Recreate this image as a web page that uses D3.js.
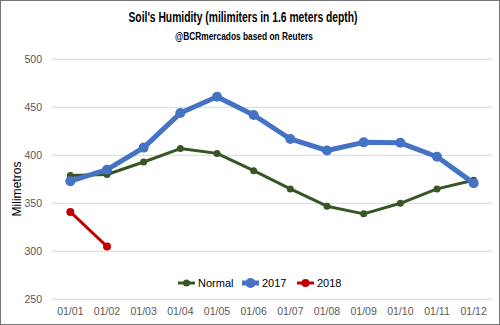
<!DOCTYPE html>
<html><head><meta charset="utf-8">
<script src="https://cdn.jsdelivr.net/npm/d3@7"></script>
<style>body{margin:0;background:#fff}svg{display:block}</style>
</head><body>
<svg id="c" width="500" height="325"></svg>
<script>
const months = ["01/01","01/02","01/03","01/04","01/05","01/06","01/07","01/08","01/09","01/10","01/11","01/12"];
const normal = [379,380,393,407,402,384,365,347,339,350,365,374];
const y2017 = [373,385,408,444,461,442,417,405,413.5,413,398.5,371];
const y2018 = [341,305];
const yTicks = [250,300,350,400,450,500];
const seriesNames = ["Normal","2017","2018"];
const colors = ["#375623","#4472C4","#C00000"];

const svg = d3.select("#c");
svg.append("rect").attr("x",0.5).attr("y",0.5).attr("width",499).attr("height",324)
  .attr("fill","#fff").attr("stroke","#767676");

const x = d3.scaleBand().domain(months).range([52,492]);
const y = d3.scaleLinear().domain([250,500]).range([299.3,59.3]);
const cx = d => x(d) + x.bandwidth()/2;

const font = "'Liberation Sans', Arial, sans-serif";
// grid
svg.append("g").selectAll("line").data(yTicks).join("line")
  .attr("x1",52).attr("x2",492).attr("y1",d=>y(d)).attr("y2",d=>y(d))
  .attr("stroke","#d9d9d9").attr("stroke-width",1);

// y axis
const ya = svg.append("g").attr("transform","translate(42,0)")
  .call(d3.axisLeft(y).tickValues(yTicks).tickSize(0).tickPadding(0));
ya.select(".domain").remove();
ya.selectAll("text").attr("font-family",font).attr("font-size",10.5).attr("fill","#595959").attr("dy","0.35em");

// x axis
const xa = svg.append("g").attr("transform","translate(0,306)")
  .call(d3.axisBottom(x).tickSize(0).tickPadding(0));
xa.select(".domain").remove();
xa.selectAll("text").attr("font-family",font).attr("font-size",10.5).attr("fill","#595959").attr("dy","0.9em");

// y title
svg.append("text").attr("transform","translate(21,189) rotate(-90)").attr("text-anchor","middle")
  .attr("font-family",font).attr("font-size",12).attr("fill","#000")
  .attr("textLength",55).attr("lengthAdjust","spacingAndGlyphs").text("Milimetros");

// titles
svg.append("text").attr("x",243).attr("y",22).attr("text-anchor","middle")
  .attr("font-family",font).attr("font-weight","bold")
  .attr("font-size",14).attr("textLength",229).attr("lengthAdjust","spacingAndGlyphs")
  .text("Soil's Humidity (milimiters in 1.6 meters depth)");
svg.append("text").attr("x",244).attr("y",40).attr("text-anchor","middle")
  .attr("font-family",font).attr("font-weight","bold")
  .attr("font-size",11).attr("textLength",138).attr("lengthAdjust","spacingAndGlyphs")
  .text("@BCRmercados based on Reuters");

const data = [normal, y2017, y2018];
const widths = [3,5,3];
const radii = [3.5,5,4];
const line = d3.line().x((d,i)=>cx(months[i])).y(d=>y(d));
data.forEach((s,k)=>{
  svg.append("path").datum(s).attr("d",line).attr("fill","none")
    .attr("stroke",colors[k]).attr("stroke-width",widths[k]).attr("stroke-linejoin","round");
  svg.append("g").selectAll("circle").data(s).join("circle")
    .attr("cx",(d,i)=>cx(months[i])).attr("cy",d=>y(d)).attr("r",radii[k]).attr("fill",colors[k]);
});

// legend
const legX = [178,242,297];
const lg = svg.append("g");
seriesNames.forEach((n,k)=>{
  const g = lg.append("g").attr("transform",`translate(${legX[k]},283)`);
  g.append("line").attr("x1",0).attr("x2",17).attr("stroke",colors[k]).attr("stroke-width",widths[k]);
  g.append("circle").attr("cx",8.5).attr("r",radii[k]).attr("fill",colors[k]);
  g.append("text").attr("x",20).attr("dy","0.35em").attr("font-family",font).attr("font-size",11).attr("fill","#000").text(n);
});
</script>
</body></html>
